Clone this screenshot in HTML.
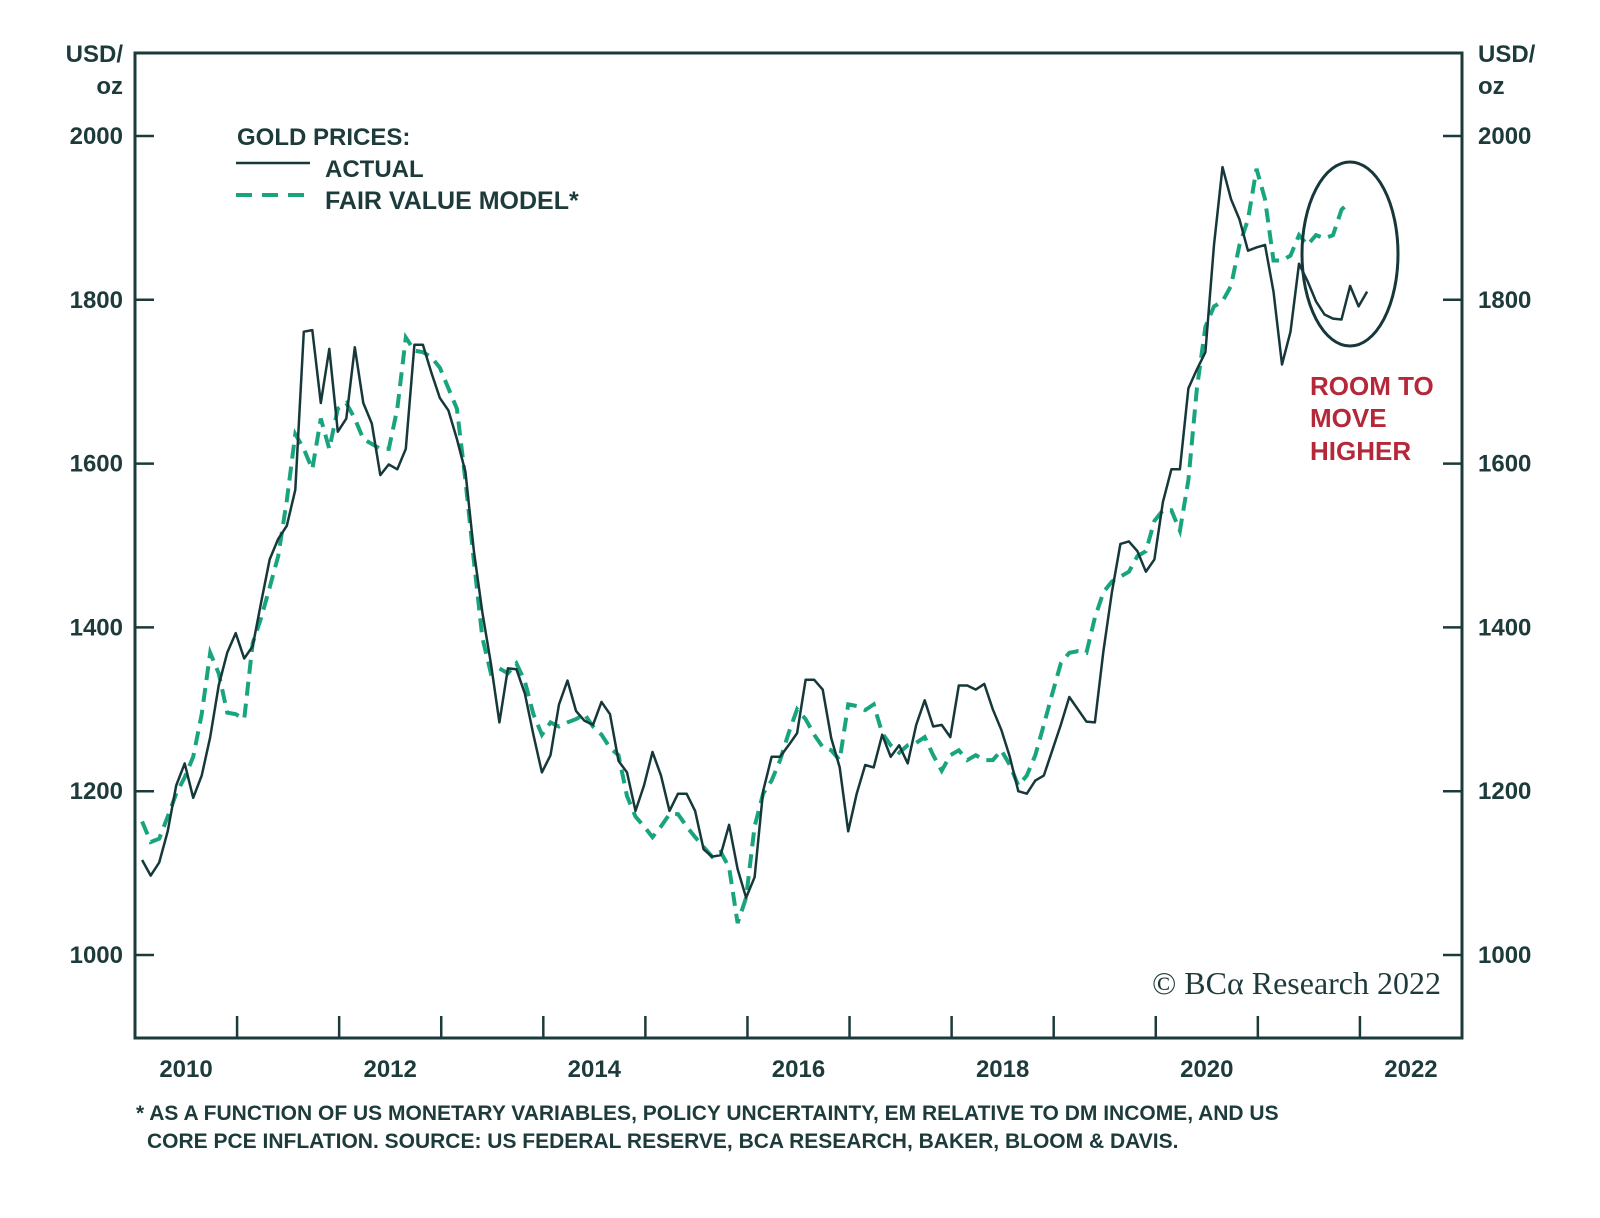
<!DOCTYPE html>
<html><head><meta charset="utf-8"><style>
body{margin:0;background:#fff;}
svg{display:block;font-family:"Liberation Sans",Arial,sans-serif;}
.t{font-weight:bold;fill:#1e3b3b;font-size:24px;}
</style></head><body>
<svg id="chart" width="1600" height="1218" viewBox="0 0 1600 1218">
<g id="axes"></g>
<g id="series"></g>
<g>
<text class="t" x="237" y="145">GOLD PRICES:</text>
<line x1="236" y1="163" x2="310" y2="163" stroke="#16383a" stroke-width="2.5"/>
<text class="t" x="325" y="177">ACTUAL</text>
<line x1="236" y1="195" x2="310" y2="195" stroke="#18a57e" stroke-width="4" stroke-dasharray="16,10"/>
<text class="t" x="325" y="209" style="font-size:25px">FAIR VALUE MODEL*</text>
</g>
<ellipse cx="1350" cy="254" rx="48" ry="92" fill="none" stroke="#16383a" stroke-width="3"/>
<g font-size="26" font-weight="bold" fill="#b5283a">
<text x="1310" y="395">ROOM TO</text><text x="1310" y="427">MOVE</text><text x="1310" y="460">HIGHER</text></g>
<text x="1441" y="994" text-anchor="end" font-family="'Liberation Serif',serif" font-size="32" fill="#1e3b3b">© BCα Research 2022</text>
<g class="t">
<text x="136" y="1120" style="font-size:21px">* AS A FUNCTION OF US MONETARY VARIABLES, POLICY UNCERTAINTY, EM RELATIVE TO DM INCOME, AND US</text>
<text x="147" y="1148" style="font-size:21px">CORE PCE INFLATION. SOURCE: US FEDERAL RESERVE, BCA RESEARCH, BAKER, BLOOM &amp; DAVIS.</text>
</g>
</svg>
<script>
const yTicks=[1000,1200,1400,1600,1800,2000];
const yearTicks=[2011,2012,2013,2014,2015,2016,2017,2018,2019,2020,2021,2022];
const yearLabels=[2010,2012,2014,2016,2018,2020,2022];
const seriesStart=2010.07;
const actual=[1116,1097,1113,1151,1207,1234,1192,1219,1266,1329,1369,1393,1362,1377,1431,1483,1508,1524,1568,1761,1763,1674,1740,1639,1655,1742,1674,1649,1586,1599,1593,1618,1745,1745,1711,1680,1665,1630,1590,1493,1418,1356,1284,1350,1349,1319,1269,1223,1244,1306,1335,1298,1286,1281,1309,1294,1237,1223,1176,1207,1248,1219,1176,1197,1197,1176,1129,1120,1122,1159,1105,1070,1095,1200,1242,1242,1256,1271,1336,1336,1324,1265,1229,1151,1197,1232,1229,1269,1242,1256,1234,1281,1311,1279,1281,1266,1329,1329,1324,1331,1300,1275,1242,1200,1197,1213,1219,1250,1281,1315,1300,1285,1284,1371,1443,1502,1505,1493,1468,1483,1553,1593,1593,1692,1715,1736,1867,1962,1923,1898,1860,1864,1867,1810,1721,1761,1844,1823,1798,1782,1777,1776,1817,1792,1810];
const fairValue=[1163,1138,1142,1169,1197,1217,1242,1294,1369,1344,1296,1294,1288,1381,1412,1449,1487,1555,1636,1618,1593,1655,1618,1667,1674,1655,1630,1624,1618,1618,1667,1754,1738,1736,1730,1717,1692,1667,1580,1481,1387,1344,1350,1344,1356,1334,1294,1269,1284,1279,1284,1288,1294,1279,1269,1253,1244,1194,1169,1157,1144,1157,1172,1172,1157,1144,1132,1120,1126,1107,1039,1070,1157,1197,1213,1238,1271,1300,1288,1269,1254,1250,1238,1306,1304,1299,1306,1271,1256,1247,1256,1259,1266,1244,1225,1244,1250,1238,1244,1238,1238,1250,1232,1207,1219,1244,1281,1319,1356,1369,1371,1369,1412,1443,1456,1462,1468,1487,1493,1530,1543,1543,1518,1580,1692,1767,1792,1798,1817,1867,1898,1960,1923,1848,1848,1854,1879,1867,1879,1875,1879,1910,1920];

const L=135,R=1462,T=53,B=1038;
const X=t=>L+(t-2010)*(R-L)/13;
const Y=v=>955-(v-1000)*0.819;
const NS='http://www.w3.org/2000/svg';
function mk(tag,attrs,parent){const e=document.createElementNS(NS,tag);for(const k in attrs)e.setAttribute(k,attrs[k]);parent.appendChild(e);return e;}
const ax=document.getElementById('axes');
const fr=mk('rect',{x:L,y:T,width:R-L,height:B-T,fill:'none',stroke:'#1b3a3a','stroke-width':3},ax);


yTicks.forEach(v=>{
 const y=Y(v);
 const a=mk('line',{x1:L,x2:L+19,y1:y,y2:y,stroke:'#1b3a3a','stroke-width':2.5},ax);
 
 
 const b=mk('line',{x1:R-19,x2:R,y1:y,y2:y,stroke:'#1b3a3a','stroke-width':2.5},ax);
 
 
 const t1=mk('text',{x:123,y:y+8,'text-anchor':'end',class:'t'},ax);t1.textContent=v;
 
 
 const t2=mk('text',{x:1478,y:y+8,class:'t'},ax);t2.textContent=v;
 
 
});
[['USD/',123,62,'end'],['oz',123,94,'end'],['USD/',1478,62,'start'],['oz',1478,94,'start']].forEach(u=>{
 const t=mk('text',{x:u[1],y:u[2],'text-anchor':u[3],class:'t'},ax);t.textContent=u[0];
 
 
});
yearTicks.forEach(yr=>{
 const l=mk('line',{x1:X(yr),x2:X(yr),y1:B,y2:B-22,stroke:'#1b3a3a','stroke-width':2.5},ax);
 
 
});
yearLabels.forEach(yr=>{
 const t=mk('text',{x:X(yr+0.5),y:1077,'text-anchor':'middle',class:'t'},ax);t.textContent=yr;
 
 
});
const sg=document.getElementById('series');
function pts(arr){return arr.map((v,i)=>X(seriesStart+i/12).toFixed(1)+','+Y(v).toFixed(1)).join(' ');}
const fv=mk('polyline',{points:pts(fairValue),fill:'none',stroke:'#18a57e','stroke-width':4,'stroke-dasharray':'14,8'},sg);


const ac=mk('polyline',{points:pts(actual),fill:'none',stroke:'#16383a','stroke-width':2.5,'stroke-linejoin':'round'},sg);


</script>
</body></html>
